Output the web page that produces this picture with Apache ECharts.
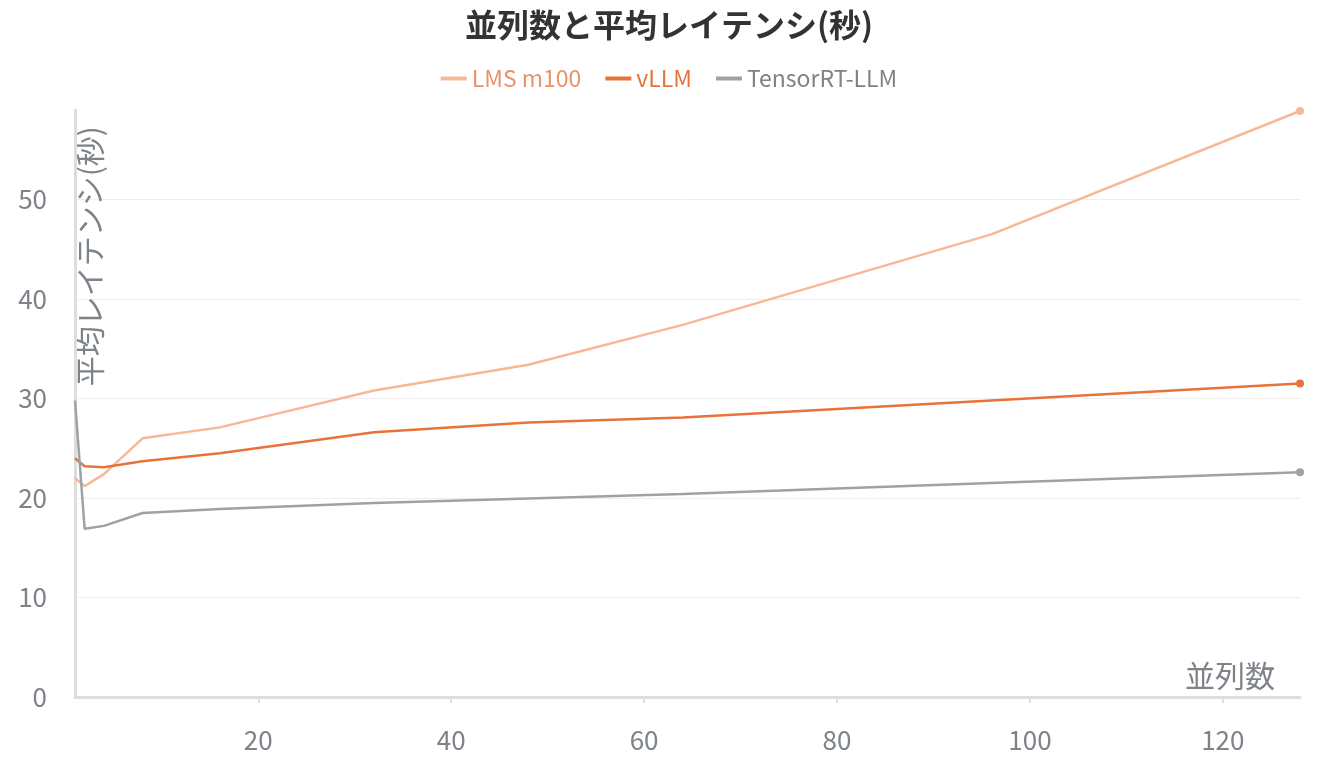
<!DOCTYPE html><html><head><meta charset="utf-8">
<script src="https://cdn.jsdelivr.net/npm/echarts@6/dist/echarts.min.js"></script>
<style>html,body{margin:0;padding:0;background:#fff}#c{width:1338px;height:762px}</style></head><body>
<div id="c"></div>
<script>
const xs = [1, 2, 4, 8, 16, 32, 48, 64, 96, 128];
const lms = [22.0, 21.2, 22.4, 26.0, 27.1, 30.8, 33.4, 37.4, 46.5, 58.9];
const vllm = [24.0, 23.2, 23.1, 23.7, 24.5, 26.6, 27.6, 28.1, 29.8, 31.5];
const trt = [29.8, 16.9, 17.2, 18.5, 18.9, 19.5, 19.95, 20.4, 21.5, 22.6];
const names = ['LMS m100', 'vLLM', 'TensorRT-LLM'];
const colors = ['#f8b898', '#e8733a', '#9ca3a8'];
const textColors = ['#e8936a', '#e8733a', '#7d8388'];
const F = '"Noto Sans CJK JP","Noto Sans",sans-serif';
function mk(i, arr) {
  return {
    name: names[i], type: 'line', data: xs.map((x, k) => [x, arr[k]]),
    lineStyle: { width: 2.5, color: colors[i] }, itemStyle: { color: colors[i] },
    symbol: 'circle', symbolSize: (v, p) => p.dataIndex === xs.length - 1 ? 8 : 0,
    showSymbol: true
  };
}
const chart = echarts.init(document.getElementById('c'));
chart.setOption({
  animation: false,
  title: { text: '並列数と平均レイテンシ(秒)', left: 'center', top: 4,
    textStyle: { fontFamily: F, fontSize: 32, fontWeight: 'bold', color: '#333' } },
  legend: { top: 62, itemWidth: 26, itemHeight: 4, itemGap: 24, icon: 'rect',
    data: names.map((n, i) => ({ name: n, textStyle: { color: textColors[i] } })),
    textStyle: { fontFamily: F, fontSize: 23 } },
  grid: { left: 75, right: 38, top: 110, bottom: 65 },
  xAxis: { type: 'value', min: 1, max: 128, interval: 20,
    name: '並列数', nameLocation: 'end', nameGap: -115,
    nameTextStyle: { fontFamily: F, fontSize: 30, color: '#7d8388', verticalAlign: 'bottom', padding: [0, 0, 6, 0] },
    axisLine: { lineStyle: { color: '#ddd', width: 3 } },
    axisTick: { show: true, length: 6, lineStyle: { color: '#ddd', width: 2 },
      customValues: [20, 40, 60, 80, 100, 120] },
    axisLabel: { fontFamily: F, fontSize: 26, color: '#7d8388', margin: 30,
      customValues: [20, 40, 60, 80, 100, 120] },
    splitLine: { show: false } },
  yAxis: { type: 'value', min: 0, max: 59, interval: 10,
    name: '平均レイテンシ(秒)', nameLocation: 'end', nameRotate: 90, nameGap: -30,
    nameTextStyle: { fontFamily: F, fontSize: 30, color: '#7d8388', align: 'right', verticalAlign: 'top', padding: [0, -14, 0, 0] },
    axisLine: { show: true, lineStyle: { color: '#ddd', width: 3 } },
    axisTick: { show: false },
    axisLabel: { fontFamily: F, fontSize: 26, color: '#7d8388', margin: 28, showMaxLabel: false },
    splitLine: { lineStyle: { color: '#eee' }, showMaxLine: false } },
  series: [mk(0, lms), mk(1, vllm), mk(2, trt)]
});
</script></body></html>
